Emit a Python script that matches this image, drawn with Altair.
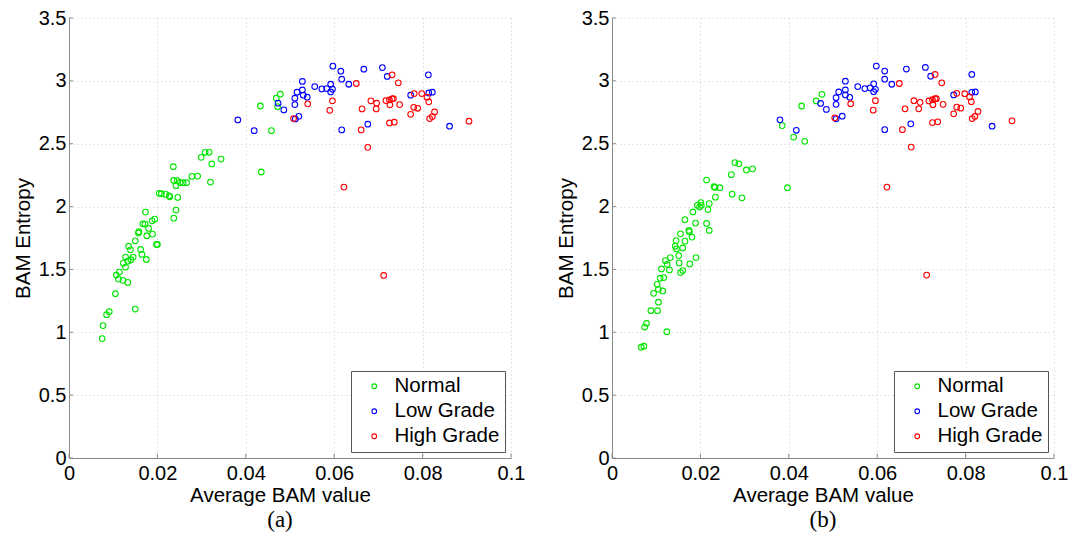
import altair as alt
import pandas as pd

CLASSES = ["Normal", "Low Grade", "High Grade"]
COLORS = ["#00e600", "#0000ff", "#ff0000"]
X_TICKS = [0, 0.02, 0.04, 0.06, 0.08, 0.1]
Y_TICKS = [0, 0.5, 1, 1.5, 2, 2.5, 3, 3.5]
CAPTIONS = ["(a)", "(b)"]

# ---------- panel (a) ----------
A_NORMAL_X = [0.0478, 0.0469, 0.0472, 0.0433, 0.0458, 0.0435, 0.0308, 0.0317, 0.0299, 0.0344,
              0.0323, 0.0236, 0.0320, 0.0278, 0.0291, 0.0237, 0.0245, 0.0251, 0.0258, 0.0266,
              0.0242, 0.0204, 0.0209, 0.0219, 0.0227, 0.0228, 0.0246, 0.0242, 0.0237, 0.0173,
              0.0194, 0.0188, 0.0167, 0.0172, 0.0180, 0.0158, 0.0157, 0.0189, 0.0176, 0.0150,
              0.0198, 0.0200, 0.0135, 0.0162, 0.0165, 0.0175, 0.0139, 0.0128, 0.0145, 0.0140,
              0.0123, 0.0133, 0.0128, 0.0107, 0.0114, 0.0112, 0.0122, 0.0133, 0.0105, 0.0150,
              0.0091, 0.0085, 0.0077, 0.0075]
A_NORMAL_Y = [2.894, 2.862, 2.795, 2.800, 2.604, 2.275, 2.432, 2.432, 2.392, 2.378,
              2.339, 2.317, 2.195, 2.240, 2.243, 2.208, 2.206, 2.190, 2.190, 2.190,
              2.166, 2.105, 2.102, 2.097, 2.086, 2.078, 2.073, 1.972, 1.908, 1.956,
              1.900, 1.887, 1.863, 1.861, 1.826, 1.800, 1.789, 1.781, 1.768, 1.728,
              1.699, 1.699, 1.685, 1.659, 1.619, 1.579, 1.656, 1.598, 1.598, 1.577,
              1.550, 1.566, 1.519, 1.455, 1.479, 1.423, 1.413, 1.397, 1.307, 1.185,
              1.164, 1.140, 1.053, 0.950]
A_LOW_X = [0.0382, 0.0419, 0.0473, 0.0486, 0.0516, 0.0511, 0.0511, 0.0512, 0.0520, 0.0528,
           0.0528, 0.0530, 0.0539, 0.0556, 0.0572, 0.0583, 0.0592, 0.0596, 0.0592, 0.0597,
           0.0615, 0.0617, 0.0633, 0.0667, 0.0709, 0.0720, 0.0813, 0.0617, 0.0676, 0.0773,
           0.0814, 0.0822, 0.0861]
A_LOW_Y = [2.689, 2.604, 2.822, 2.769, 2.910, 2.862, 2.811, 2.697, 2.718, 2.928,
           2.995, 2.886, 2.870, 2.955, 2.936, 2.939, 2.973, 2.934, 2.912, 3.117,
           3.077, 3.013, 2.973, 3.093, 3.106, 3.035, 3.048, 2.610, 2.655, 2.886,
           2.904, 2.910, 2.639]
A_HIGH_X = [0.0508, 0.0731, 0.0745, 0.0650, 0.0596, 0.0590, 0.0540, 0.0683, 0.0696, 0.0663,
            0.0695, 0.0717, 0.0725, 0.0731, 0.0734, 0.0726, 0.0748, 0.0661, 0.0725, 0.0736,
            0.0676, 0.0622, 0.0781, 0.0798, 0.0810, 0.0814, 0.0780, 0.0789, 0.0773, 0.0827,
            0.0822, 0.0816, 0.0905, 0.0712]
A_HIGH_Y = [2.700, 3.048, 2.984, 2.979, 2.841, 2.766, 2.817, 2.841, 2.822, 2.777,
            2.777, 2.843, 2.849, 2.857, 2.859, 2.809, 2.811, 2.610, 2.665, 2.671,
            2.471, 2.155, 2.899, 2.899, 2.870, 2.833, 2.790, 2.782, 2.734, 2.753,
            2.716, 2.700, 2.679, 1.452]

# ---------- panel (b) ----------
B_NORMAL_X = [0.0475, 0.0462, 0.0429, 0.0385, 0.0411, 0.0436, 0.0397, 0.0278, 0.0287, 0.0304,
              0.0318, 0.0270, 0.0214, 0.0231, 0.0233, 0.0244, 0.0272, 0.0294, 0.0234, 0.0201,
              0.0193, 0.0198, 0.0202, 0.0217, 0.0220, 0.0183, 0.0165, 0.0189, 0.0214, 0.0220,
              0.0174, 0.0175, 0.0155, 0.0181, 0.0165, 0.0145, 0.0143, 0.0146, 0.0160, 0.0151,
              0.0152, 0.0160, 0.0155, 0.0176, 0.0190, 0.0121, 0.0132, 0.0125, 0.0130, 0.0112,
              0.0117, 0.0109, 0.0102, 0.0105, 0.0115, 0.0094, 0.0105, 0.0103, 0.0088, 0.0078,
              0.0074, 0.0124, 0.0072, 0.0066]
B_NORMAL_Y = [2.893, 2.840, 2.800, 2.644, 2.553, 2.519, 2.150, 2.350, 2.340, 2.291,
              2.300, 2.254, 2.211, 2.158, 2.152, 2.150, 2.099, 2.070, 2.075, 2.032,
              2.010, 1.997, 2.010, 1.976, 2.024, 1.957, 1.896, 1.869, 1.866, 1.810,
              1.810, 1.800, 1.783, 1.757, 1.725, 1.730, 1.685, 1.663, 1.671, 1.610,
              1.552, 1.491, 1.475, 1.544, 1.594, 1.570, 1.594, 1.541, 1.496, 1.504,
              1.435, 1.430, 1.382, 1.342, 1.329, 1.310, 1.239, 1.172, 1.172, 1.070,
              1.042, 1.005, 0.889, 0.881]
B_LOW_X = [0.0380, 0.0417, 0.0472, 0.0485, 0.0507, 0.0507, 0.0513, 0.0528, 0.0528, 0.0528,
           0.0538, 0.0521, 0.0507, 0.0556, 0.0572, 0.0584, 0.0592, 0.0596, 0.0592, 0.0598,
           0.0617, 0.0617, 0.0633, 0.0666, 0.0709, 0.0721, 0.0814, 0.0617, 0.0676, 0.0773,
           0.0814, 0.0822, 0.0860]
B_LOW_Y = [2.690, 2.607, 2.820, 2.773, 2.866, 2.813, 2.912, 2.997, 2.928, 2.888,
           2.869, 2.719, 2.698, 2.955, 2.939, 2.944, 2.976, 2.933, 2.914, 3.118,
           3.078, 3.013, 2.973, 3.094, 3.107, 3.037, 3.051, 2.612, 2.658, 2.888,
           2.909, 2.912, 2.639]
B_HIGH_X = [0.0504, 0.0540, 0.0596, 0.0591, 0.0650, 0.0731, 0.0746, 0.0683, 0.0697, 0.0663,
            0.0694, 0.0717, 0.0725, 0.0731, 0.0734, 0.0726, 0.0749, 0.0657, 0.0725, 0.0737,
            0.0677, 0.0622, 0.0780, 0.0798, 0.0809, 0.0813, 0.0780, 0.0789, 0.0773, 0.0828,
            0.0821, 0.0815, 0.0905, 0.0712]
B_HIGH_Y = [2.706, 2.818, 2.842, 2.767, 2.979, 3.051, 2.984, 2.842, 2.829, 2.778,
            2.778, 2.840, 2.850, 2.858, 2.858, 2.810, 2.813, 2.612, 2.668, 2.674,
            2.473, 2.155, 2.901, 2.898, 2.872, 2.834, 2.791, 2.783, 2.738, 2.757,
            2.717, 2.700, 2.682, 1.455]

FONT = "Liberation Sans"
AXIS_GRAY = "#8a8a8a"


def make_df(nx, ny, lx, ly, hx, hy):
    rows = []
    for xs, ys, c in ((nx, ny, CLASSES[0]), (lx, ly, CLASSES[1]), (hx, hy, CLASSES[2])):
        for a, b in zip(xs, ys):
            rows.append({"x": a, "y": b, "cls": c})
    return pd.DataFrame(rows)


def x_enc():
    return alt.X("x:Q", scale=alt.Scale(domain=[0, 0.1], nice=False, zero=False),
                 axis=alt.Axis(values=X_TICKS, format="~g", title="Average BAM value",
                               titleX=211, labelFlush=False, labelOverlap=False,
                               labelPadding=5, titlePadding=2))


def y_enc():
    return alt.Y("y:Q", scale=alt.Scale(domain=[0, 3.5], nice=False, zero=False),
                 axis=alt.Axis(values=Y_TICKS, format="~g", title="BAM Entropy",
                               labelFlush=False, labelOverlap=False,
                               labelPadding=3, titlePadding=5))


def panel(df, caption):
    pts = alt.Chart(df).mark_point(filled=False, size=32, strokeWidth=1.1, opacity=1).encode(
        x=x_enc(), y=y_enc(),
        color=alt.Color("cls:N", sort=CLASSES,
                        scale=alt.Scale(domain=CLASSES, range=COLORS),
                        legend=alt.Legend(title=None, orient="bottom-right", offset=6,
                                          strokeColor="#555555", fillColor="white",
                                          padding=5, symbolType="circle", symbolSize=22,
                                          symbolStrokeWidth=1.1, symbolOffset=8,
                                          labelOffset=10, rowPadding=4,
                                          labelFont=FONT, labelFontSize=20.5,
                                          labelColor="black")))
    xt = alt.Chart(pd.DataFrame({"x": X_TICKS})).mark_rule(
        color=AXIS_GRAY, strokeWidth=1).encode(
        x=x_enc(), y=alt.datum(0), y2=alt.datum(0.035))
    yt = alt.Chart(pd.DataFrame({"y": Y_TICKS})).mark_rule(
        color=AXIS_GRAY, strokeWidth=1).encode(
        y=y_enc(), x=alt.datum(0), x2=alt.datum(0.0009))
    return alt.layer(xt, yt, pts).properties(
        width=442, height=440,
        title=alt.TitleParams(caption, orient="bottom", font="Liberation Serif",
                              fontSize=23, fontWeight="normal", color="black",
                              offset=3, dx=-10))


pa = panel(make_df(A_NORMAL_X, A_NORMAL_Y, A_LOW_X, A_LOW_Y, A_HIGH_X, A_HIGH_Y), CAPTIONS[0])
pb = panel(make_df(B_NORMAL_X, B_NORMAL_Y, B_LOW_X, B_LOW_Y, B_HIGH_X, B_HIGH_Y), CAPTIONS[1])

chart = alt.hconcat(pa, pb, spacing=101, bounds="flush").resolve_legend(
    color="independent"
).properties(
    padding={"left": 5, "top": 0, "right": 5, "bottom": 0}
).configure(
    background="white"
).configure_view(
    stroke=None
).configure_axis(
    domainColor=AXIS_GRAY, domainWidth=1, ticks=False,
    grid=True, gridColor="#cccccc", gridDash=[1, 3], gridWidth=1,
    labelFont=FONT, labelFontSize=20, labelColor="black",
    titleFont=FONT, titleFontSize=20.5, titleFontWeight="normal", titleColor="black"
)

chart.save("out.html", embed_options={"renderer": "svg", "actions": False})
